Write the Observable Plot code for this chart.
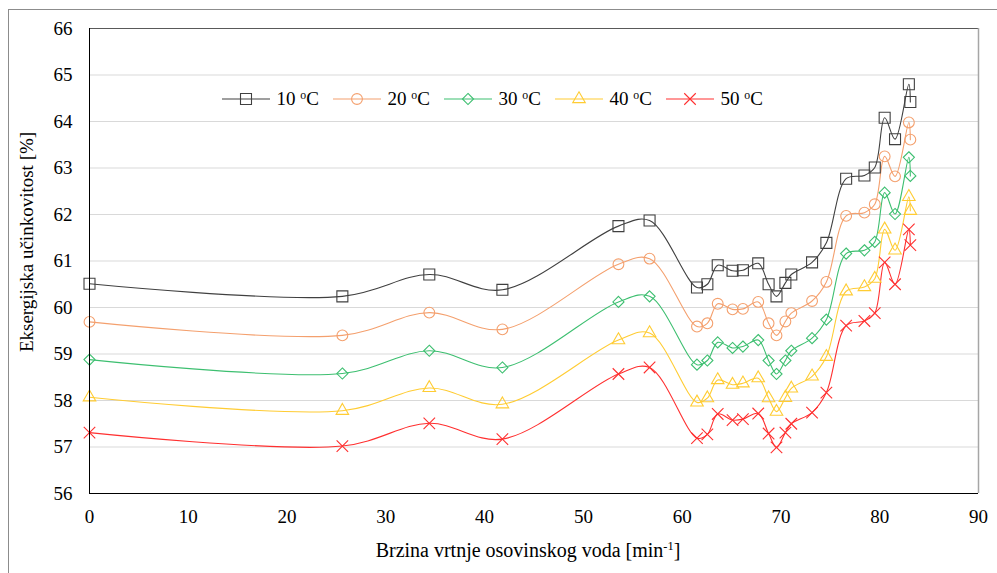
<!DOCTYPE html>
<html><head><meta charset="utf-8">
<script src="https://cdn.jsdelivr.net/npm/d3@7"></script>
<script src="https://cdn.jsdelivr.net/npm/@observablehq/plot@0.6"></script>
<style>
body{margin:0;background:#fff;}
#wrap{position:relative;width:997px;height:573px;overflow:hidden;font-family:"Liberation Serif","Times New Roman",serif;color:#000;background:#fff}
#border{position:absolute;left:8px;top:9px;width:1010px;height:600px;border:1px solid #8c8c8c;box-sizing:border-box;pointer-events:none}
#chart{position:absolute;left:0;top:0}
.xt{position:absolute;left:0;width:1056px;top:539px;text-align:center;font-size:20px;white-space:nowrap}
.yt{position:absolute;left:27px;top:242px;transform:translate(-50%,-50%) rotate(-90deg);font-size:19px;white-space:nowrap}
.sup{font-size:0.62em;vertical-align:0.55em}
.leg{position:absolute;top:88px;height:22px;display:flex;align-items:center;font-size:19px;white-space:nowrap}
.leg svg{margin-right:7px}
</style></head>
<body>
<div id="wrap">
  <div id="chart"></div>
  <div id="border"></div>
  <div class="xt">Brzina vrtnje osovinskog voda [min<span class="sup">-1</span>]</div>
  <div class="yt">Eksergijska učinkovitost [%]</div>
  <div id="legend"></div>
</div>
<script>
// ---- data ----
const speed = [0, 25.6, 34.4, 41.8, 53.55, 56.7, 61.5, 62.55, 63.6, 65.1, 66.15, 67.7, 68.75, 69.55, 70.45, 71.05, 73.15, 74.6, 76.6, 78.45, 79.5, 80.5, 81.55, 82.95, 83.1];
const t10 = [60.51, 60.24, 60.71, 60.38, 61.75, 61.87, 60.43, 60.50, 60.91, 60.79, 60.80, 60.95, 60.50, 60.24, 60.53, 60.71, 60.97, 61.39, 62.77, 62.84, 63.01, 64.08, 63.62, 64.80, 64.42];
const t20 = [59.69, 59.40, 59.89, 59.53, 60.93, 61.05, 59.59, 59.66, 60.08, 59.96, 59.97, 60.12, 59.66, 59.40, 59.70, 59.88, 60.14, 60.55, 61.97, 62.04, 62.22, 63.25, 62.82, 63.98, 63.61];
const t30 = [58.88, 58.58, 59.07, 58.71, 60.12, 60.24, 58.77, 58.86, 59.25, 59.13, 59.16, 59.30, 58.86, 58.57, 58.86, 59.07, 59.34, 59.74, 61.16, 61.23, 61.41, 62.47, 62.01, 63.23, 62.83];
const t40 = [58.07, 57.78, 58.27, 57.92, 59.30, 59.45, 57.96, 58.05, 58.44, 58.34, 58.37, 58.48, 58.05, 57.76, 58.06, 58.26, 58.52, 58.94, 60.35, 60.44, 60.62, 61.68, 61.23, 62.38, 62.08];
const t50 = [57.31, 57.02, 57.51, 57.17, 58.57, 58.71, 57.19, 57.27, 57.71, 57.58, 57.60, 57.72, 57.29, 56.99, 57.31, 57.50, 57.74, 58.17, 59.61, 59.71, 59.88, 60.97, 60.50, 61.68, 61.34];
const seriesNames = ["10", "20", "30", "40", "50"];
const xTicks = [0, 10, 20, 30, 40, 50, 60, 70, 80, 90];
const yTicks = [56, 57, 58, 59, 60, 61, 62, 63, 64, 65, 66];

// ---- styles ----
const values = [t10, t20, t30, t40, t50];
const colors = ["#404040", "#F4A06E", "#3DBF70", "#FFCC33", "#FF3030"];
const symbols = ["square", "circle", "diamond2", "triangle2", "times"];
const radii = [6.2, 5.4, 5.0, 6.0, 5.3];

const series = seriesNames.map((n, k) => ({
  name: n, color: colors[k], symbol: symbols[k], r: radii[k],
  rows: speed.map((x, i) => ({x, y: values[k][i]}))
}));

const marks = [
  Plot.ruleY(yTicks.slice(1, -1), {stroke: "#d9d9d9", strokeWidth: 1}),
  Plot.axisX({ticks: xTicks, tickSize: 0, tickPadding: 16, label: null, fontSize: 19}),
  Plot.axisY({ticks: yTicks, tickSize: 0, tickPadding: 17, label: null, fontSize: 19}),
];
for (const s of series) {
  marks.push(Plot.line(s.rows, {x: "x", y: "y", stroke: s.color, strokeWidth: 1.1, curve: "catmull-rom"}));
}
for (const s of series) {
  marks.push(Plot.dot(s.rows, {x: "x", y: "y", stroke: s.color, symbol: s.symbol, r: s.r, fill: "none", strokeWidth: 1.1}));
}
marks.push(Plot.ruleY([66], {stroke: "#595959"}));
marks.push(Plot.ruleX([90], {stroke: "#a6a6a6", strokeWidth: 1.5}));
marks.push(Plot.ruleX([0], {stroke: "#000"}));
marks.push(Plot.ruleY([56], {stroke: "#000"}));

const chart = Plot.plot({
  width: 997, height: 573,
  marginLeft: 89, marginRight: 19, marginTop: 28, marginBottom: 80,
  x: {domain: [0, 90]},
  y: {domain: [56, 66]},
  style: {fontFamily: "'Liberation Serif','Times New Roman',serif", fontSize: "19px", color: "#000", background: "transparent"},
  marks
});
document.getElementById("chart").appendChild(chart);

// ---- legend ----
const leg = document.getElementById("legend");
const symMap = {square: d3.symbolSquare, circle: d3.symbolCircle, diamond2: d3.symbolDiamond2, triangle2: d3.symbolTriangle2, times: d3.symbolTimes};
series.forEach((s, i) => {
  const item = document.createElement("div");
  item.className = "leg";
  item.style.left = (221.5 + i * 111) + "px";
  const svg = d3.create("svg").attr("width", 48).attr("height", 22);
  svg.append("line").attr("x1", 0).attr("x2", 48).attr("y1", 11).attr("y2", 11).attr("stroke", s.color).attr("stroke-width", 1.1);
  svg.append("path").attr("transform", "translate(24,11)")
    .attr("d", d3.symbol(symMap[s.symbol], s.r * s.r * Math.PI)())
    .attr("fill", "none").attr("stroke", s.color).attr("stroke-width", 1.1);
  item.appendChild(svg.node());
  const t = document.createElement("span");
  t.innerHTML = s.name + ' <span class="sup">o</span>C';
  item.appendChild(t);
  leg.appendChild(item);
});
</script>
</body></html>
